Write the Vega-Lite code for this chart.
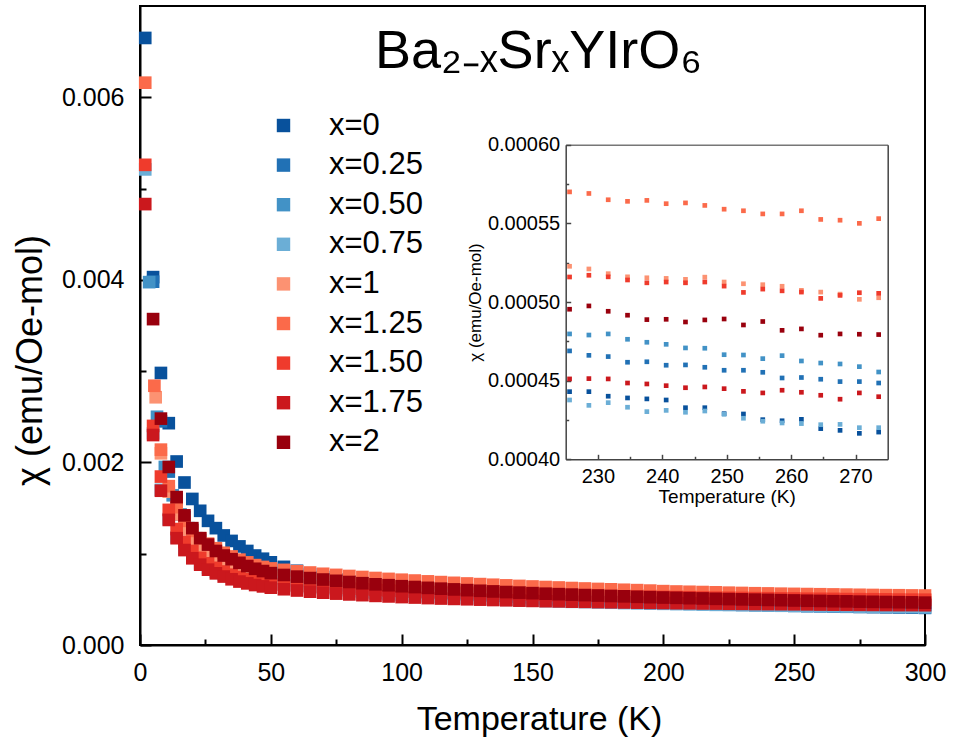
{
"$schema":"https://vega.github.io/schema/vega-lite/v6.json",
"width":785,"height":639,
"autosize":{"type":"none"},
"padding":{"left":140,"top":6,"right":28,"bottom":97},
"background":"white",
"config":{"view":{"stroke":"black","strokeWidth":2},"font":"Liberation Sans",
"axis":{"grid":false,"labelColor":"black","titleColor":"black","domainColor":"black","tickColor":"black","labelFont":"Liberation Sans","titleFont":"Liberation Sans","titleFontWeight":"normal"}},
"title":{"text":"Ba₂₋ₓSrₓYIrO₆","font":"Liberation Sans","fontSize":54,"fontWeight":"normal","color":"black","anchor":"middle","frame":"group","offset":-116,"baseline":"alphabetic","dx":6},
"datasets":{
"main":[
{"s":"x=0","T":2,"chi":0.00665},{"s":"x=0","T":5,"chi":0.00403},{"s":"x=0","T":8,"chi":0.00298},{"s":"x=0","T":11,"chi":0.00243},{"s":"x=0","T":14,"chi":0.00201},{"s":"x=0","T":17,"chi":0.00178},{"s":"x=0","T":20,"chi":0.0016},{"s":"x=0","T":23,"chi":0.00147},{"s":"x=0","T":26,"chi":0.00136},{"s":"x=0","T":29,"chi":0.00128},{"s":"x=0","T":32,"chi":0.0012},{"s":"x=0","T":35,"chi":0.00114},{"s":"x=0","T":38,"chi":0.00108},{"s":"x=0","T":41,"chi":0.00103},{"s":"x=0","T":44,"chi":0.00098},{"s":"x=0","T":47,"chi":0.000945},
{"s":"x=0","T":50,"chi":0.000906},{"s":"x=0","T":55,"chi":0.000856},{"s":"x=0","T":60,"chi":0.000813},{"s":"x=0","T":65,"chi":0.000777},{"s":"x=0","T":70,"chi":0.000745},{"s":"x=0","T":75,"chi":0.000718},{"s":"x=0","T":80,"chi":0.000693},{"s":"x=0","T":85,"chi":0.000671},{"s":"x=0","T":90,"chi":0.000652},{"s":"x=0","T":95,"chi":0.000634},{"s":"x=0","T":100,"chi":0.000618},{"s":"x=0","T":105,"chi":0.000603},{"s":"x=0","T":110,"chi":0.00059},{"s":"x=0","T":115,"chi":0.000578},{"s":"x=0","T":120,"chi":0.000567},{"s":"x=0","T":125,"chi":0.000556},{"s":"x=0","T":130,"chi":0.000547},{"s":"x=0","T":135,"chi":0.000538},{"s":"x=0","T":140,"chi":0.00053},{"s":"x=0","T":145,"chi":0.000522},{"s":"x=0","T":150,"chi":0.000515},{"s":"x=0","T":155,"chi":0.000508},{"s":"x=0","T":160,"chi":0.000501},{"s":"x=0","T":165,"chi":0.000495},{"s":"x=0","T":170,"chi":0.00049},{"s":"x=0","T":175,"chi":0.000484},{"s":"x=0","T":180,"chi":0.000479},{"s":"x=0","T":185,"chi":0.000474},{"s":"x=0","T":190,"chi":0.00047},{"s":"x=0","T":195,"chi":0.000465},{"s":"x=0","T":200,"chi":0.000461},{"s":"x=0","T":205,"chi":0.000457},{"s":"x=0","T":210,"chi":0.000454},{"s":"x=0","T":215,"chi":0.00045},{"s":"x=0","T":220,"chi":0.000447},{"s":"x=0","T":225,"chi":0.000443},{"s":"x=0","T":230,"chi":0.00044},{"s":"x=0","T":235,"chi":0.000437},{"s":"x=0","T":240,"chi":0.000434},{"s":"x=0","T":245,"chi":0.000431},{"s":"x=0","T":250,"chi":0.000429},{"s":"x=0","T":255,"chi":0.000426},{"s":"x=0","T":260,"chi":0.000424},{"s":"x=0","T":265,"chi":0.000421},{"s":"x=0","T":270,"chi":0.000419},{"s":"x=0","T":275,"chi":0.000417},{"s":"x=0","T":280,"chi":0.000415},{"s":"x=0","T":285,"chi":0.000413},{"s":"x=0","T":290,"chi":0.000411},{"s":"x=0","T":295,"chi":0.000409},{"s":"x=0","T":300,"chi":0.000407},
{"s":"x=0.25","T":5,"chi":0.00398},{"s":"x=0.25","T":8,"chi":0.00245},{"s":"x=0.25","T":11,"chi":0.0019},{"s":"x=0.25","T":14,"chi":0.0016},{"s":"x=0.25","T":17,"chi":0.0014},{"s":"x=0.25","T":20,"chi":0.00126},{"s":"x=0.25","T":23,"chi":0.00115},{"s":"x=0.25","T":26,"chi":0.001065},{"s":"x=0.25","T":29,"chi":0.000995},{"s":"x=0.25","T":32,"chi":0.00094},{"s":"x=0.25","T":35,"chi":0.000895},{"s":"x=0.25","T":38,"chi":0.000855},{"s":"x=0.25","T":41,"chi":0.000822},{"s":"x=0.25","T":44,"chi":0.000795},{"s":"x=0.25","T":47,"chi":0.000772},
{"s":"x=0.25","T":50,"chi":0.000753},{"s":"x=0.25","T":55,"chi":0.000729},{"s":"x=0.25","T":60,"chi":0.000707},{"s":"x=0.25","T":65,"chi":0.000688},{"s":"x=0.25","T":70,"chi":0.00067},{"s":"x=0.25","T":75,"chi":0.000655},{"s":"x=0.25","T":80,"chi":0.00064},{"s":"x=0.25","T":85,"chi":0.000627},{"s":"x=0.25","T":90,"chi":0.000615},{"s":"x=0.25","T":95,"chi":0.000604},{"s":"x=0.25","T":100,"chi":0.000594},{"s":"x=0.25","T":105,"chi":0.000584},{"s":"x=0.25","T":110,"chi":0.000576},{"s":"x=0.25","T":115,"chi":0.000568},{"s":"x=0.25","T":120,"chi":0.00056},{"s":"x=0.25","T":125,"chi":0.000553},{"s":"x=0.25","T":130,"chi":0.000546},{"s":"x=0.25","T":135,"chi":0.00054},{"s":"x=0.25","T":140,"chi":0.000534},{"s":"x=0.25","T":145,"chi":0.000528},{"s":"x=0.25","T":150,"chi":0.000523},{"s":"x=0.25","T":155,"chi":0.000518},{"s":"x=0.25","T":160,"chi":0.000513},{"s":"x=0.25","T":165,"chi":0.000509},{"s":"x=0.25","T":170,"chi":0.000505},{"s":"x=0.25","T":175,"chi":0.000501},{"s":"x=0.25","T":180,"chi":0.000497},{"s":"x=0.25","T":185,"chi":0.000493},{"s":"x=0.25","T":190,"chi":0.00049},{"s":"x=0.25","T":195,"chi":0.000486},{"s":"x=0.25","T":200,"chi":0.000483},{"s":"x=0.25","T":205,"chi":0.00048},{"s":"x=0.25","T":210,"chi":0.000477},{"s":"x=0.25","T":215,"chi":0.000474},{"s":"x=0.25","T":220,"chi":0.000472},{"s":"x=0.25","T":225,"chi":0.000469},{"s":"x=0.25","T":230,"chi":0.000467},{"s":"x=0.25","T":235,"chi":0.000464},{"s":"x=0.25","T":240,"chi":0.000462},{"s":"x=0.25","T":245,"chi":0.00046},{"s":"x=0.25","T":250,"chi":0.000457},{"s":"x=0.25","T":255,"chi":0.000455},{"s":"x=0.25","T":260,"chi":0.000453},{"s":"x=0.25","T":265,"chi":0.000451},{"s":"x=0.25","T":270,"chi":0.000449},{"s":"x=0.25","T":275,"chi":0.000448},{"s":"x=0.25","T":280,"chi":0.000446},{"s":"x=0.25","T":285,"chi":0.000444},{"s":"x=0.25","T":290,"chi":0.000443},{"s":"x=0.25","T":295,"chi":0.000441},{"s":"x=0.25","T":300,"chi":0.000439},
{"s":"x=0.50","T":3.5,"chi":0.003975},{"s":"x=0.50","T":6.5,"chi":0.0025},{"s":"x=0.50","T":9.5,"chi":0.00195},{"s":"x=0.50","T":12.5,"chi":0.00164},{"s":"x=0.50","T":15.5,"chi":0.00143},{"s":"x=0.50","T":18.5,"chi":0.00128},{"s":"x=0.50","T":21.5,"chi":0.00117},{"s":"x=0.50","T":24.5,"chi":0.001085},{"s":"x=0.50","T":27.5,"chi":0.00102},{"s":"x=0.50","T":30.5,"chi":0.000965},{"s":"x=0.50","T":33.5,"chi":0.000925},{"s":"x=0.50","T":36.5,"chi":0.000893},{"s":"x=0.50","T":39.5,"chi":0.000865},{"s":"x=0.50","T":42.5,"chi":0.000845},{"s":"x=0.50","T":45.5,"chi":0.00083},
{"s":"x=0.50","T":50,"chi":0.00082},{"s":"x=0.50","T":55,"chi":0.000791},{"s":"x=0.50","T":60,"chi":0.000765},{"s":"x=0.50","T":65,"chi":0.000742},{"s":"x=0.50","T":70,"chi":0.000721},{"s":"x=0.50","T":75,"chi":0.000702},{"s":"x=0.50","T":80,"chi":0.000685},{"s":"x=0.50","T":85,"chi":0.000669},{"s":"x=0.50","T":90,"chi":0.000655},{"s":"x=0.50","T":95,"chi":0.000642},{"s":"x=0.50","T":100,"chi":0.00063},{"s":"x=0.50","T":105,"chi":0.000618},{"s":"x=0.50","T":110,"chi":0.000608},{"s":"x=0.50","T":115,"chi":0.000598},{"s":"x=0.50","T":120,"chi":0.000589},{"s":"x=0.50","T":125,"chi":0.00058},{"s":"x=0.50","T":130,"chi":0.000573},{"s":"x=0.50","T":135,"chi":0.000565},{"s":"x=0.50","T":140,"chi":0.000558},{"s":"x=0.50","T":145,"chi":0.000551},{"s":"x=0.50","T":150,"chi":0.000545},{"s":"x=0.50","T":155,"chi":0.000539},{"s":"x=0.50","T":160,"chi":0.000533},{"s":"x=0.50","T":165,"chi":0.000528},{"s":"x=0.50","T":170,"chi":0.000523},{"s":"x=0.50","T":175,"chi":0.000518},{"s":"x=0.50","T":180,"chi":0.000514},{"s":"x=0.50","T":185,"chi":0.000509},{"s":"x=0.50","T":190,"chi":0.000505},{"s":"x=0.50","T":195,"chi":0.000501},{"s":"x=0.50","T":200,"chi":0.000497},{"s":"x=0.50","T":205,"chi":0.000494},{"s":"x=0.50","T":210,"chi":0.00049},{"s":"x=0.50","T":215,"chi":0.000487},{"s":"x=0.50","T":220,"chi":0.000483},{"s":"x=0.50","T":225,"chi":0.00048},{"s":"x=0.50","T":230,"chi":0.000477},{"s":"x=0.50","T":235,"chi":0.000474},{"s":"x=0.50","T":240,"chi":0.000472},{"s":"x=0.50","T":245,"chi":0.000469},{"s":"x=0.50","T":250,"chi":0.000466},{"s":"x=0.50","T":255,"chi":0.000464},{"s":"x=0.50","T":260,"chi":0.000462},{"s":"x=0.50","T":265,"chi":0.000459},{"s":"x=0.50","T":270,"chi":0.000457},{"s":"x=0.50","T":275,"chi":0.000455},{"s":"x=0.50","T":280,"chi":0.000453},{"s":"x=0.50","T":285,"chi":0.000451},{"s":"x=0.50","T":290,"chi":0.000449},{"s":"x=0.50","T":295,"chi":0.000447},{"s":"x=0.50","T":300,"chi":0.000445},
{"s":"x=0.75","T":2,"chi":0.00521},{"s":"x=0.75","T":5,"chi":0.00232},{"s":"x=0.75","T":8,"chi":0.0017},{"s":"x=0.75","T":11,"chi":0.00138},{"s":"x=0.75","T":14,"chi":0.00118},{"s":"x=0.75","T":17,"chi":0.00105},{"s":"x=0.75","T":20,"chi":0.00096},{"s":"x=0.75","T":23,"chi":0.000895},{"s":"x=0.75","T":26,"chi":0.000845},{"s":"x=0.75","T":29,"chi":0.000805},{"s":"x=0.75","T":32,"chi":0.000775},{"s":"x=0.75","T":35,"chi":0.00075},{"s":"x=0.75","T":38,"chi":0.00073},{"s":"x=0.75","T":41,"chi":0.000715},{"s":"x=0.75","T":44,"chi":0.000702},{"s":"x=0.75","T":47,"chi":0.000694},
{"s":"x=0.75","T":50,"chi":0.000688},{"s":"x=0.75","T":55,"chi":0.000666},{"s":"x=0.75","T":60,"chi":0.000647},{"s":"x=0.75","T":65,"chi":0.00063},{"s":"x=0.75","T":70,"chi":0.000615},{"s":"x=0.75","T":75,"chi":0.000601},{"s":"x=0.75","T":80,"chi":0.000589},{"s":"x=0.75","T":85,"chi":0.000577},{"s":"x=0.75","T":90,"chi":0.000567},{"s":"x=0.75","T":95,"chi":0.000557},{"s":"x=0.75","T":100,"chi":0.000548},{"s":"x=0.75","T":105,"chi":0.00054},{"s":"x=0.75","T":110,"chi":0.000532},{"s":"x=0.75","T":115,"chi":0.000525},{"s":"x=0.75","T":120,"chi":0.000518},{"s":"x=0.75","T":125,"chi":0.000512},{"s":"x=0.75","T":130,"chi":0.000506},{"s":"x=0.75","T":135,"chi":0.0005},{"s":"x=0.75","T":140,"chi":0.000495},{"s":"x=0.75","T":145,"chi":0.00049},{"s":"x=0.75","T":150,"chi":0.000486},{"s":"x=0.75","T":155,"chi":0.000481},{"s":"x=0.75","T":160,"chi":0.000477},{"s":"x=0.75","T":165,"chi":0.000473},{"s":"x=0.75","T":170,"chi":0.00047},{"s":"x=0.75","T":175,"chi":0.000466},{"s":"x=0.75","T":180,"chi":0.000463},{"s":"x=0.75","T":185,"chi":0.000459},{"s":"x=0.75","T":190,"chi":0.000456},{"s":"x=0.75","T":195,"chi":0.000453},{"s":"x=0.75","T":200,"chi":0.000451},{"s":"x=0.75","T":205,"chi":0.000448},{"s":"x=0.75","T":210,"chi":0.000445},{"s":"x=0.75","T":215,"chi":0.000443},{"s":"x=0.75","T":220,"chi":0.00044},{"s":"x=0.75","T":225,"chi":0.000438},{"s":"x=0.75","T":230,"chi":0.000436},{"s":"x=0.75","T":235,"chi":0.000434},{"s":"x=0.75","T":240,"chi":0.000432},{"s":"x=0.75","T":245,"chi":0.00043},{"s":"x=0.75","T":250,"chi":0.000428},{"s":"x=0.75","T":255,"chi":0.000426},{"s":"x=0.75","T":260,"chi":0.000424},{"s":"x=0.75","T":265,"chi":0.000423},{"s":"x=0.75","T":270,"chi":0.000421},{"s":"x=0.75","T":275,"chi":0.000419},{"s":"x=0.75","T":280,"chi":0.000418},{"s":"x=0.75","T":285,"chi":0.000416},{"s":"x=0.75","T":290,"chi":0.000415},{"s":"x=0.75","T":295,"chi":0.000414},{"s":"x=0.75","T":300,"chi":0.000412},
{"s":"x=1","T":6,"chi":0.002714},{"s":"x=1","T":8,"chi":0.0021},{"s":"x=1","T":11,"chi":0.00168},{"s":"x=1","T":14,"chi":0.00143},{"s":"x=1","T":17,"chi":0.00127},{"s":"x=1","T":20,"chi":0.00115},{"s":"x=1","T":23,"chi":0.001065},{"s":"x=1","T":26,"chi":0.001},{"s":"x=1","T":29,"chi":0.000945},{"s":"x=1","T":32,"chi":0.0009},{"s":"x=1","T":35,"chi":0.000865},{"s":"x=1","T":38,"chi":0.000835},{"s":"x=1","T":41,"chi":0.000808},{"s":"x=1","T":44,"chi":0.000787},{"s":"x=1","T":47,"chi":0.00077},
{"s":"x=1","T":50,"chi":0.000756},{"s":"x=1","T":55,"chi":0.000739},{"s":"x=1","T":60,"chi":0.000724},{"s":"x=1","T":65,"chi":0.00071},{"s":"x=1","T":70,"chi":0.000698},{"s":"x=1","T":75,"chi":0.000686},{"s":"x=1","T":80,"chi":0.000675},{"s":"x=1","T":85,"chi":0.000664},{"s":"x=1","T":90,"chi":0.000655},{"s":"x=1","T":95,"chi":0.000646},{"s":"x=1","T":100,"chi":0.000638},{"s":"x=1","T":105,"chi":0.00063},{"s":"x=1","T":110,"chi":0.000622},{"s":"x=1","T":115,"chi":0.000615},{"s":"x=1","T":120,"chi":0.000609},{"s":"x=1","T":125,"chi":0.000602},{"s":"x=1","T":130,"chi":0.000596},{"s":"x=1","T":135,"chi":0.000591},{"s":"x=1","T":140,"chi":0.000585},{"s":"x=1","T":145,"chi":0.00058},{"s":"x=1","T":150,"chi":0.000575},{"s":"x=1","T":155,"chi":0.000571},{"s":"x=1","T":160,"chi":0.000566},{"s":"x=1","T":165,"chi":0.000562},{"s":"x=1","T":170,"chi":0.000558},{"s":"x=1","T":175,"chi":0.000554},{"s":"x=1","T":180,"chi":0.000551},{"s":"x=1","T":185,"chi":0.000547},{"s":"x=1","T":190,"chi":0.000544},{"s":"x=1","T":195,"chi":0.00054},{"s":"x=1","T":200,"chi":0.000537},{"s":"x=1","T":205,"chi":0.000534},{"s":"x=1","T":210,"chi":0.000531},{"s":"x=1","T":215,"chi":0.000529},{"s":"x=1","T":220,"chi":0.000526},{"s":"x=1","T":225,"chi":0.000523},{"s":"x=1","T":230,"chi":0.000521},{"s":"x=1","T":235,"chi":0.000518},{"s":"x=1","T":240,"chi":0.000516},{"s":"x=1","T":245,"chi":0.000514},{"s":"x=1","T":250,"chi":0.000511},{"s":"x=1","T":255,"chi":0.000509},{"s":"x=1","T":260,"chi":0.000507},{"s":"x=1","T":265,"chi":0.000505},{"s":"x=1","T":270,"chi":0.000503},{"s":"x=1","T":275,"chi":0.000501},{"s":"x=1","T":280,"chi":0.0005},{"s":"x=1","T":285,"chi":0.000498},{"s":"x=1","T":290,"chi":0.000496},{"s":"x=1","T":295,"chi":0.000494},{"s":"x=1","T":300,"chi":0.000493},
{"s":"x=1.25","T":2,"chi":0.00616},{"s":"x=1.25","T":5.5,"chi":0.00284},{"s":"x=1.25","T":8,"chi":0.00214},{"s":"x=1.25","T":11,"chi":0.00174},{"s":"x=1.25","T":14,"chi":0.00151},{"s":"x=1.25","T":17,"chi":0.00136},{"s":"x=1.25","T":20,"chi":0.00125},{"s":"x=1.25","T":23,"chi":0.00117},{"s":"x=1.25","T":26,"chi":0.00111},{"s":"x=1.25","T":29,"chi":0.00106},{"s":"x=1.25","T":32,"chi":0.00101},{"s":"x=1.25","T":35,"chi":0.00097},{"s":"x=1.25","T":38,"chi":0.000935},{"s":"x=1.25","T":41,"chi":0.000905},{"s":"x=1.25","T":44,"chi":0.000875},{"s":"x=1.25","T":47,"chi":0.000855},
{"s":"x=1.25","T":50,"chi":0.000839},{"s":"x=1.25","T":55,"chi":0.000823},{"s":"x=1.25","T":60,"chi":0.000808},{"s":"x=1.25","T":65,"chi":0.000794},{"s":"x=1.25","T":70,"chi":0.00078},{"s":"x=1.25","T":75,"chi":0.000768},{"s":"x=1.25","T":80,"chi":0.000756},{"s":"x=1.25","T":85,"chi":0.000745},{"s":"x=1.25","T":90,"chi":0.000734},{"s":"x=1.25","T":95,"chi":0.000724},{"s":"x=1.25","T":100,"chi":0.000715},{"s":"x=1.25","T":105,"chi":0.000706},{"s":"x=1.25","T":110,"chi":0.000697},{"s":"x=1.25","T":115,"chi":0.000689},{"s":"x=1.25","T":120,"chi":0.000681},{"s":"x=1.25","T":125,"chi":0.000674},{"s":"x=1.25","T":130,"chi":0.000667},{"s":"x=1.25","T":135,"chi":0.00066},{"s":"x=1.25","T":140,"chi":0.000653},{"s":"x=1.25","T":145,"chi":0.000647},{"s":"x=1.25","T":150,"chi":0.000641},{"s":"x=1.25","T":155,"chi":0.000635},{"s":"x=1.25","T":160,"chi":0.00063},{"s":"x=1.25","T":165,"chi":0.000624},{"s":"x=1.25","T":170,"chi":0.000619},{"s":"x=1.25","T":175,"chi":0.000614},{"s":"x=1.25","T":180,"chi":0.00061},{"s":"x=1.25","T":185,"chi":0.000605},{"s":"x=1.25","T":190,"chi":0.000601},{"s":"x=1.25","T":195,"chi":0.000596},{"s":"x=1.25","T":200,"chi":0.00059},{"s":"x=1.25","T":205,"chi":0.000586},{"s":"x=1.25","T":210,"chi":0.000583},{"s":"x=1.25","T":215,"chi":0.00058},{"s":"x=1.25","T":220,"chi":0.000577},{"s":"x=1.25","T":225,"chi":0.000573},{"s":"x=1.25","T":230,"chi":0.00057},{"s":"x=1.25","T":235,"chi":0.000567},{"s":"x=1.25","T":240,"chi":0.000565},{"s":"x=1.25","T":245,"chi":0.000562},{"s":"x=1.25","T":250,"chi":0.00056},{"s":"x=1.25","T":255,"chi":0.000558},{"s":"x=1.25","T":260,"chi":0.000556},{"s":"x=1.25","T":265,"chi":0.000554},{"s":"x=1.25","T":270,"chi":0.000552},{"s":"x=1.25","T":275,"chi":0.00055},{"s":"x=1.25","T":280,"chi":0.000548},{"s":"x=1.25","T":285,"chi":0.000546},{"s":"x=1.25","T":290,"chi":0.000545},{"s":"x=1.25","T":295,"chi":0.000543},{"s":"x=1.25","T":300,"chi":0.000542},
{"s":"x=1.50","T":2,"chi":0.00526},{"s":"x=1.50","T":5,"chi":0.0024},{"s":"x=1.50","T":8,"chi":0.001845},{"s":"x=1.50","T":11,"chi":0.00148},{"s":"x=1.50","T":14,"chi":0.00127},{"s":"x=1.50","T":17,"chi":0.00113},{"s":"x=1.50","T":20,"chi":0.00103},{"s":"x=1.50","T":23,"chi":0.000955},{"s":"x=1.50","T":26,"chi":0.000895},{"s":"x=1.50","T":29,"chi":0.000845},{"s":"x=1.50","T":32,"chi":0.000805},{"s":"x=1.50","T":35,"chi":0.00077},{"s":"x=1.50","T":38,"chi":0.000745},{"s":"x=1.50","T":41,"chi":0.00072},{"s":"x=1.50","T":44,"chi":0.0007},{"s":"x=1.50","T":47,"chi":0.000685},
{"s":"x=1.50","T":50,"chi":0.000672},{"s":"x=1.50","T":55,"chi":0.000661},{"s":"x=1.50","T":60,"chi":0.000651},{"s":"x=1.50","T":65,"chi":0.000641},{"s":"x=1.50","T":70,"chi":0.000633},{"s":"x=1.50","T":75,"chi":0.000625},{"s":"x=1.50","T":80,"chi":0.000618},{"s":"x=1.50","T":85,"chi":0.000611},{"s":"x=1.50","T":90,"chi":0.000604},{"s":"x=1.50","T":95,"chi":0.000598},{"s":"x=1.50","T":100,"chi":0.000593},{"s":"x=1.50","T":105,"chi":0.000587},{"s":"x=1.50","T":110,"chi":0.000583},{"s":"x=1.50","T":115,"chi":0.000578},{"s":"x=1.50","T":120,"chi":0.000573},{"s":"x=1.50","T":125,"chi":0.000569},{"s":"x=1.50","T":130,"chi":0.000565},{"s":"x=1.50","T":135,"chi":0.000562},{"s":"x=1.50","T":140,"chi":0.000558},{"s":"x=1.50","T":145,"chi":0.000555},{"s":"x=1.50","T":150,"chi":0.000551},{"s":"x=1.50","T":155,"chi":0.000548},{"s":"x=1.50","T":160,"chi":0.000545},{"s":"x=1.50","T":165,"chi":0.000543},{"s":"x=1.50","T":170,"chi":0.00054},{"s":"x=1.50","T":175,"chi":0.000537},{"s":"x=1.50","T":180,"chi":0.000535},{"s":"x=1.50","T":185,"chi":0.000532},{"s":"x=1.50","T":190,"chi":0.00053},{"s":"x=1.50","T":195,"chi":0.000528},{"s":"x=1.50","T":200,"chi":0.000526},{"s":"x=1.50","T":205,"chi":0.000524},{"s":"x=1.50","T":210,"chi":0.000522},{"s":"x=1.50","T":215,"chi":0.00052},{"s":"x=1.50","T":220,"chi":0.000518},{"s":"x=1.50","T":225,"chi":0.000517},{"s":"x=1.50","T":230,"chi":0.000515},{"s":"x=1.50","T":235,"chi":0.000513},{"s":"x=1.50","T":240,"chi":0.000512},{"s":"x=1.50","T":245,"chi":0.00051},{"s":"x=1.50","T":250,"chi":0.000509},{"s":"x=1.50","T":255,"chi":0.000507},{"s":"x=1.50","T":260,"chi":0.000506},{"s":"x=1.50","T":265,"chi":0.000505},{"s":"x=1.50","T":270,"chi":0.000503},{"s":"x=1.50","T":275,"chi":0.000502},{"s":"x=1.50","T":280,"chi":0.000501},{"s":"x=1.50","T":285,"chi":0.0005},{"s":"x=1.50","T":290,"chi":0.000498},{"s":"x=1.50","T":295,"chi":0.000497},{"s":"x=1.50","T":300,"chi":0.000496},
{"s":"x=1.75","T":2,"chi":0.00483},{"s":"x=1.75","T":5,"chi":0.0023},{"s":"x=1.75","T":8,"chi":0.00169},{"s":"x=1.75","T":11,"chi":0.00137},{"s":"x=1.75","T":14,"chi":0.00117},{"s":"x=1.75","T":17,"chi":0.00104},{"s":"x=1.75","T":20,"chi":0.00095},{"s":"x=1.75","T":23,"chi":0.00088},{"s":"x=1.75","T":26,"chi":0.000825},{"s":"x=1.75","T":29,"chi":0.000785},{"s":"x=1.75","T":32,"chi":0.00075},{"s":"x=1.75","T":35,"chi":0.00072},{"s":"x=1.75","T":38,"chi":0.000695},{"s":"x=1.75","T":41,"chi":0.000675},{"s":"x=1.75","T":44,"chi":0.000657},{"s":"x=1.75","T":47,"chi":0.000642},
{"s":"x=1.75","T":50,"chi":0.000628},{"s":"x=1.75","T":55,"chi":0.000611},{"s":"x=1.75","T":60,"chi":0.000597},{"s":"x=1.75","T":65,"chi":0.000584},{"s":"x=1.75","T":70,"chi":0.000573},{"s":"x=1.75","T":75,"chi":0.000563},{"s":"x=1.75","T":80,"chi":0.000554},{"s":"x=1.75","T":85,"chi":0.000546},{"s":"x=1.75","T":90,"chi":0.000538},{"s":"x=1.75","T":95,"chi":0.000532},{"s":"x=1.75","T":100,"chi":0.000525},{"s":"x=1.75","T":105,"chi":0.00052},{"s":"x=1.75","T":110,"chi":0.000514},{"s":"x=1.75","T":115,"chi":0.000509},{"s":"x=1.75","T":120,"chi":0.000505},{"s":"x=1.75","T":125,"chi":0.000501},{"s":"x=1.75","T":130,"chi":0.000497},{"s":"x=1.75","T":135,"chi":0.000493},{"s":"x=1.75","T":140,"chi":0.00049},{"s":"x=1.75","T":145,"chi":0.000486},{"s":"x=1.75","T":150,"chi":0.000483},{"s":"x=1.75","T":155,"chi":0.00048},{"s":"x=1.75","T":160,"chi":0.000478},{"s":"x=1.75","T":165,"chi":0.000475},{"s":"x=1.75","T":170,"chi":0.000473},{"s":"x=1.75","T":175,"chi":0.00047},{"s":"x=1.75","T":180,"chi":0.000468},{"s":"x=1.75","T":185,"chi":0.000466},{"s":"x=1.75","T":190,"chi":0.000464},{"s":"x=1.75","T":195,"chi":0.000462},{"s":"x=1.75","T":200,"chi":0.00046},{"s":"x=1.75","T":205,"chi":0.000458},{"s":"x=1.75","T":210,"chi":0.000457},{"s":"x=1.75","T":215,"chi":0.000455},{"s":"x=1.75","T":220,"chi":0.000454},{"s":"x=1.75","T":225,"chi":0.000452},{"s":"x=1.75","T":230,"chi":0.000451},{"s":"x=1.75","T":235,"chi":0.000449},{"s":"x=1.75","T":240,"chi":0.000448},{"s":"x=1.75","T":245,"chi":0.000447},{"s":"x=1.75","T":250,"chi":0.000446},{"s":"x=1.75","T":255,"chi":0.000445},{"s":"x=1.75","T":260,"chi":0.000443},{"s":"x=1.75","T":265,"chi":0.000442},{"s":"x=1.75","T":270,"chi":0.000441},{"s":"x=1.75","T":275,"chi":0.00044},{"s":"x=1.75","T":280,"chi":0.000439},{"s":"x=1.75","T":285,"chi":0.000438},{"s":"x=1.75","T":290,"chi":0.000437},{"s":"x=1.75","T":295,"chi":0.000437},{"s":"x=1.75","T":300,"chi":0.000436},
{"s":"x=2","T":5,"chi":0.00357},{"s":"x=2","T":8,"chi":0.00248},{"s":"x=2","T":11,"chi":0.00195},{"s":"x=2","T":14,"chi":0.00162},{"s":"x=2","T":17,"chi":0.00142},{"s":"x=2","T":20,"chi":0.00128},{"s":"x=2","T":23,"chi":0.00117},{"s":"x=2","T":26,"chi":0.0011},{"s":"x=2","T":29,"chi":0.00103},{"s":"x=2","T":32,"chi":0.00098},{"s":"x=2","T":35,"chi":0.00094},{"s":"x=2","T":38,"chi":0.0009},{"s":"x=2","T":41,"chi":0.000865},{"s":"x=2","T":44,"chi":0.000835},{"s":"x=2","T":47,"chi":0.00081},
{"s":"x=2","T":50,"chi":0.000787},{"s":"x=2","T":55,"chi":0.000767},{"s":"x=2","T":60,"chi":0.000749},{"s":"x=2","T":65,"chi":0.000733},{"s":"x=2","T":70,"chi":0.000717},{"s":"x=2","T":75,"chi":0.000703},{"s":"x=2","T":80,"chi":0.00069},{"s":"x=2","T":85,"chi":0.000677},{"s":"x=2","T":90,"chi":0.000665},{"s":"x=2","T":95,"chi":0.000655},{"s":"x=2","T":100,"chi":0.000644},{"s":"x=2","T":105,"chi":0.000635},{"s":"x=2","T":110,"chi":0.000626},{"s":"x=2","T":115,"chi":0.000617},{"s":"x=2","T":120,"chi":0.000609},{"s":"x=2","T":125,"chi":0.000601},{"s":"x=2","T":130,"chi":0.000594},{"s":"x=2","T":135,"chi":0.000587},{"s":"x=2","T":140,"chi":0.00058},{"s":"x=2","T":145,"chi":0.000574},{"s":"x=2","T":150,"chi":0.000568},{"s":"x=2","T":155,"chi":0.000562},{"s":"x=2","T":160,"chi":0.000557},{"s":"x=2","T":165,"chi":0.000552},{"s":"x=2","T":170,"chi":0.000547},{"s":"x=2","T":175,"chi":0.000542},{"s":"x=2","T":180,"chi":0.000537},{"s":"x=2","T":185,"chi":0.000533},{"s":"x=2","T":190,"chi":0.000528},{"s":"x=2","T":195,"chi":0.000524},{"s":"x=2","T":200,"chi":0.00052},{"s":"x=2","T":205,"chi":0.000517},{"s":"x=2","T":210,"chi":0.000513},{"s":"x=2","T":215,"chi":0.00051},{"s":"x=2","T":220,"chi":0.000506},{"s":"x=2","T":225,"chi":0.000503},{"s":"x=2","T":230,"chi":0.0005},{"s":"x=2","T":235,"chi":0.000497},{"s":"x=2","T":240,"chi":0.000494},{"s":"x=2","T":245,"chi":0.000491},{"s":"x=2","T":250,"chi":0.000488},{"s":"x=2","T":255,"chi":0.000485},{"s":"x=2","T":260,"chi":0.000483},{"s":"x=2","T":265,"chi":0.00048},{"s":"x=2","T":270,"chi":0.000478},{"s":"x=2","T":275,"chi":0.000475},{"s":"x=2","T":280,"chi":0.000473},{"s":"x=2","T":285,"chi":0.000471},{"s":"x=2","T":290,"chi":0.000469},{"s":"x=2","T":295,"chi":0.000467},{"s":"x=2","T":300,"chi":0.000464}
],
"inset":[
{"s":"x=0","T":225.6,"chi":0.000443},{"s":"x=0","T":228.6,"chi":0.000443},{"s":"x=0","T":231.6,"chi":0.0004401},{"s":"x=0","T":234.6,"chi":0.000439},{"s":"x=0","T":237.6,"chi":0.0004384},{"s":"x=0","T":240.6,"chi":0.0004377},{"s":"x=0","T":243.6,"chi":0.0004328},{"s":"x=0","T":246.6,"chi":0.0004328},{"s":"x=0","T":249.6,"chi":0.000429},{"s":"x=0","T":252.6,"chi":0.0004288},{"s":"x=0","T":255.6,"chi":0.0004252},{"s":"x=0","T":258.6,"chi":0.0004245},{"s":"x=0","T":261.6,"chi":0.0004254},{"s":"x=0","T":264.6,"chi":0.0004195},{"s":"x=0","T":267.6,"chi":0.0004184},{"s":"x=0","T":270.6,"chi":0.0004165},{"s":"x=0","T":273.6,"chi":0.0004173},
{"s":"x=0.25","T":225.6,"chi":0.0004689},{"s":"x=0.25","T":228.6,"chi":0.0004661},{"s":"x=0.25","T":231.6,"chi":0.0004653},{"s":"x=0.25","T":234.6,"chi":0.0004617},{"s":"x=0.25","T":237.6,"chi":0.000462},{"s":"x=0.25","T":240.6,"chi":0.0004598},{"s":"x=0.25","T":243.6,"chi":0.00046},{"s":"x=0.25","T":246.6,"chi":0.0004585},{"s":"x=0.25","T":249.6,"chi":0.0004566},{"s":"x=0.25","T":252.6,"chi":0.0004566},{"s":"x=0.25","T":255.6,"chi":0.0004553},{"s":"x=0.25","T":258.6,"chi":0.0004517},{"s":"x=0.25","T":261.6,"chi":0.000452},{"s":"x=0.25","T":264.6,"chi":0.0004509},{"s":"x=0.25","T":267.6,"chi":0.0004494},{"s":"x=0.25","T":270.6,"chi":0.0004494},{"s":"x=0.25","T":273.6,"chi":0.0004485},
{"s":"x=0.50","T":225.6,"chi":0.0004797},{"s":"x=0.50","T":228.6,"chi":0.000479},{"s":"x=0.50","T":231.6,"chi":0.0004797},{"s":"x=0.50","T":234.6,"chi":0.0004763},{"s":"x=0.50","T":237.6,"chi":0.0004744},{"s":"x=0.50","T":240.6,"chi":0.0004731},{"s":"x=0.50","T":243.6,"chi":0.0004708},{"s":"x=0.50","T":246.6,"chi":0.0004706},{"s":"x=0.50","T":249.6,"chi":0.0004665},{"s":"x=0.50","T":252.6,"chi":0.0004663},{"s":"x=0.50","T":255.6,"chi":0.000464},{"s":"x=0.50","T":258.6,"chi":0.0004659},{"s":"x=0.50","T":261.6,"chi":0.0004625},{"s":"x=0.50","T":264.6,"chi":0.0004612},{"s":"x=0.50","T":267.6,"chi":0.0004606},{"s":"x=0.50","T":270.6,"chi":0.0004589},{"s":"x=0.50","T":273.6,"chi":0.0004555},
{"s":"x=0.75","T":225.6,"chi":0.0004377},{"s":"x=0.75","T":228.6,"chi":0.0004343},{"s":"x=0.75","T":231.6,"chi":0.000436},{"s":"x=0.75","T":234.6,"chi":0.0004331},{"s":"x=0.75","T":237.6,"chi":0.0004303},{"s":"x=0.75","T":240.6,"chi":0.0004311},{"s":"x=0.75","T":243.6,"chi":0.0004299},{"s":"x=0.75","T":246.6,"chi":0.0004307},{"s":"x=0.75","T":249.6,"chi":0.0004286},{"s":"x=0.75","T":252.6,"chi":0.0004261},{"s":"x=0.75","T":255.6,"chi":0.0004242},{"s":"x=0.75","T":258.6,"chi":0.0004231},{"s":"x=0.75","T":261.6,"chi":0.0004227},{"s":"x=0.75","T":264.6,"chi":0.000422},{"s":"x=0.75","T":267.6,"chi":0.0004222},{"s":"x=0.75","T":270.6,"chi":0.0004201},{"s":"x=0.75","T":273.6,"chi":0.0004201},
{"s":"x=1","T":225.6,"chi":0.0005227},{"s":"x=1","T":228.6,"chi":0.000521},{"s":"x=1","T":231.6,"chi":0.000518},{"s":"x=1","T":234.6,"chi":0.000516},{"s":"x=1","T":237.6,"chi":0.0005154},{"s":"x=1","T":240.6,"chi":0.000515},{"s":"x=1","T":243.6,"chi":0.0005144},{"s":"x=1","T":246.6,"chi":0.0005158},{"s":"x=1","T":249.6,"chi":0.0005127},{"s":"x=1","T":252.6,"chi":0.0005116},{"s":"x=1","T":255.6,"chi":0.000511},{"s":"x=1","T":258.6,"chi":0.00051},{"s":"x=1","T":261.6,"chi":0.0005074},{"s":"x=1","T":264.6,"chi":0.0005063},{"s":"x=1","T":267.6,"chi":0.000505},{"s":"x=1","T":270.6,"chi":0.0005017},{"s":"x=1","T":273.6,"chi":0.0005027},
{"s":"x=1.25","T":225.6,"chi":0.00057},{"s":"x=1.25","T":228.6,"chi":0.000569},{"s":"x=1.25","T":231.6,"chi":0.000565},{"s":"x=1.25","T":234.6,"chi":0.000564},{"s":"x=1.25","T":237.6,"chi":0.0005646},{"s":"x=1.25","T":240.6,"chi":0.0005625},{"s":"x=1.25","T":243.6,"chi":0.000563},{"s":"x=1.25","T":246.6,"chi":0.0005614},{"s":"x=1.25","T":249.6,"chi":0.000559},{"s":"x=1.25","T":252.6,"chi":0.000558},{"s":"x=1.25","T":255.6,"chi":0.000556},{"s":"x=1.25","T":258.6,"chi":0.000556},{"s":"x=1.25","T":261.6,"chi":0.000558},{"s":"x=1.25","T":264.6,"chi":0.0005525},{"s":"x=1.25","T":267.6,"chi":0.000552},{"s":"x=1.25","T":270.6,"chi":0.00055},{"s":"x=1.25","T":273.6,"chi":0.000553},
{"s":"x=1.50","T":225.6,"chi":0.0005159},{"s":"x=1.50","T":228.6,"chi":0.000517},{"s":"x=1.50","T":231.6,"chi":0.000516},{"s":"x=1.50","T":234.6,"chi":0.000514},{"s":"x=1.50","T":237.6,"chi":0.0005122},{"s":"x=1.50","T":240.6,"chi":0.0005127},{"s":"x=1.50","T":243.6,"chi":0.0005122},{"s":"x=1.50","T":246.6,"chi":0.0005127},{"s":"x=1.50","T":249.6,"chi":0.0005101},{"s":"x=1.50","T":252.6,"chi":0.0005061},{"s":"x=1.50","T":255.6,"chi":0.0005082},{"s":"x=1.50","T":258.6,"chi":0.0005071},{"s":"x=1.50","T":261.6,"chi":0.0005063},{"s":"x=1.50","T":264.6,"chi":0.0005023},{"s":"x=1.50","T":267.6,"chi":0.0005042},{"s":"x=1.50","T":270.6,"chi":0.0005059},{"s":"x=1.50","T":273.6,"chi":0.0005055},
{"s":"x=1.75","T":225.6,"chi":0.0004511},{"s":"x=1.75","T":228.6,"chi":0.0004513},{"s":"x=1.75","T":231.6,"chi":0.0004511},{"s":"x=1.75","T":234.6,"chi":0.0004485},{"s":"x=1.75","T":237.6,"chi":0.0004479},{"s":"x=1.75","T":240.6,"chi":0.0004468},{"s":"x=1.75","T":243.6,"chi":0.0004455},{"s":"x=1.75","T":246.6,"chi":0.000446},{"s":"x=1.75","T":249.6,"chi":0.0004449},{"s":"x=1.75","T":252.6,"chi":0.0004432},{"s":"x=1.75","T":255.6,"chi":0.0004422},{"s":"x=1.75","T":258.6,"chi":0.0004439},{"s":"x=1.75","T":261.6,"chi":0.0004426},{"s":"x=1.75","T":264.6,"chi":0.0004407},{"s":"x=1.75","T":267.6,"chi":0.0004382},{"s":"x=1.75","T":270.6,"chi":0.0004422},{"s":"x=1.75","T":273.6,"chi":0.0004398},
{"s":"x=2","T":225.6,"chi":0.0004954},{"s":"x=2","T":228.6,"chi":0.0004975},{"s":"x=2","T":231.6,"chi":0.0004941},{"s":"x=2","T":234.6,"chi":0.0004916},{"s":"x=2","T":237.6,"chi":0.0004888},{"s":"x=2","T":240.6,"chi":0.000489},{"s":"x=2","T":243.6,"chi":0.0004873},{"s":"x=2","T":246.6,"chi":0.0004886},{"s":"x=2","T":249.6,"chi":0.0004892},{"s":"x=2","T":252.6,"chi":0.0004854},{"s":"x=2","T":255.6,"chi":0.0004876},{"s":"x=2","T":258.6,"chi":0.000482},{"s":"x=2","T":261.6,"chi":0.0004829},{"s":"x=2","T":264.6,"chi":0.0004789},{"s":"x=2","T":267.6,"chi":0.0004797},{"s":"x=2","T":270.6,"chi":0.0004795},{"s":"x=2","T":273.6,"chi":0.0004793}
]},
"layer":[
{"data":{"name":"main"},
 "mark":{"type":"point","shape":"square","filled":true,"size":160,"opacity":1},
 "encoding":{
  "x":{"field":"T","type":"quantitative","scale":{"domain":[0,300],"nice":false,"zero":false},
   "axis":{"orient":"bottom","values":[0,50,100,150,200,250,300],"tickSize":-11,"tickWidth":2,"domainWidth":2,"labelFontSize":25,"labelPadding":26,"labelFlush":false,"labelOverlap":false,"title":"Temperature (K)","titleFontSize":34,"titleX":399,"titleY":84,"titleBaseline":"alphabetic","titleAlign":"center"}},
  "y":{"field":"chi","type":"quantitative","scale":{"domain":[0,0.007],"nice":false,"zero":false},
   "axis":{"orient":"left","values":[0,0.002,0.004,0.006],"format":".3f","tickSize":-11,"tickWidth":2,"domainWidth":2,"labelFontSize":25,"labelPadding":27,"labelOverlap":false,"title":"χ (emu/Oe-mol)","titleFontSize":36,"titleX":-110,"titleY":354,"titleBaseline":"middle","titleAlign":"center","titleAngle":-90}},
  "color":{"field":"s","type":"nominal",
   "scale":{"domain":["x=0","x=0.25","x=0.50","x=0.75","x=1","x=1.25","x=1.50","x=1.75","x=2"],"range":["#08519c","#2171b5","#4292c6","#6baed6","#fc9272","#fb6a4a","#ef3b2c","#cb181d","#99000d"]},
   "legend":{"orient":"none","legendX":128,"legendY":104,"title":null,"symbolType":"square","symbolSize":180,"symbolOpacity":1,"symbolStrokeWidth":0,"labelFontSize":31,"labelFont":"Liberation Sans","labelColor":"black","labelOffset":30,"rowPadding":7.6,"padding":0}}
 }},
{"data":{"values":[{}]},
 "mark":{"type":"point","opacity":0},
 "encoding":{
  "x":{"datum":150,"type":"quantitative","scale":{"domain":[0,300],"nice":false,"zero":false},
   "axis":{"orient":"bottom","values":[25,75,125,175,225,275],"tickSize":-6,"tickWidth":2,"labels":false,"domain":false,"title":null}},
  "y":{"datum":0.003,"type":"quantitative","scale":{"domain":[0,0.007],"nice":false,"zero":false},
   "axis":{"orient":"left","values":[0.001,0.003,0.005],"tickSize":-6,"tickWidth":2,"labels":false,"domain":false,"title":null}}
 }},
{"data":{"name":"inset"},
 "mark":{"type":"point","shape":"square","filled":true,"size":22,"opacity":1},
 "encoding":{
  "x":{"field":"T","type":"quantitative","scale":{"domain":[225,275],"range":[425.7,747.7],"nice":false,"zero":false},
   "axis":{"orient":"bottom","offset":-185.7,"values":[230,240,250,260,270],"tickSize":-5,"tickWidth":1.5,"domainWidth":1.5,"domainColor":"#444","tickColor":"#444","labelFontSize":20,"labelPadding":12,"labelFlush":false,"labelOverlap":false,"title":"Temperature (K)","titleFontSize":19,"titleX":586.7,"titleY":43,"titleBaseline":"alphabetic","titleAlign":"center"}},
  "y":{"field":"chi","type":"quantitative","scale":{"domain":[0.0004,0.0006],"range":[453.3,138.7],"nice":false,"zero":false},
   "axis":{"orient":"left","offset":-425.7,"values":[0.0004,0.00045,0.0005,0.00055,0.0006],"format":".5f","tickSize":-5,"tickWidth":1.5,"domainWidth":1.5,"domainColor":"#444","tickColor":"#444","labelFontSize":20,"labelPadding":11,"labelOverlap":false,"title":"χ (emu/Oe-mol)","titleFontSize":17,"titleX":-90,"titleY":296,"titleBaseline":"middle","titleAlign":"center","titleAngle":-90}},
  "color":{"field":"s","type":"nominal","legend":null}
 }},
{"data":{"values":[{}]},
 "mark":{"type":"point","opacity":0},
 "encoding":{
  "x":{"datum":250,"type":"quantitative","scale":{"domain":[225,275],"range":[425.7,747.7],"nice":false,"zero":false},
   "axis":{"orient":"bottom","offset":-185.7,"values":[235,245,255,265],"tickSize":-3,"tickWidth":1.5,"tickColor":"#444","labels":false,"domain":false,"title":null}},
  "y":{"datum":0.0005,"type":"quantitative","scale":{"domain":[0.0004,0.0006],"range":[453.3,138.7],"nice":false,"zero":false},
   "axis":{"orient":"left","offset":-425.7,"values":[0.000425,0.000475,0.000525,0.000575],"tickSize":-3,"tickWidth":1.5,"tickColor":"#444","labels":false,"domain":false,"title":null}}
 }},
{"data":{"values":[{}]},
 "mark":{"type":"point","opacity":0},
 "encoding":{
  "x":{"datum":250,"type":"quantitative","scale":{"domain":[225,275],"range":[425.7,747.7],"nice":false,"zero":false},
   "axis":{"orient":"top","offset":-138.7,"ticks":false,"labels":false,"domain":true,"domainColor":"#777","domainWidth":1.5,"title":null}},
  "y":{"datum":0.0005,"type":"quantitative","scale":{"domain":[0.0004,0.0006],"range":[453.3,138.7],"nice":false,"zero":false},
   "axis":{"orient":"right","offset":-37.3,"ticks":false,"labels":false,"domain":true,"domainColor":"#444","domainWidth":1.5,"title":null}}
 }}
],
"resolve":{"scale":{"x":"independent","y":"independent"},"axis":{"x":"independent","y":"independent"}}
}
